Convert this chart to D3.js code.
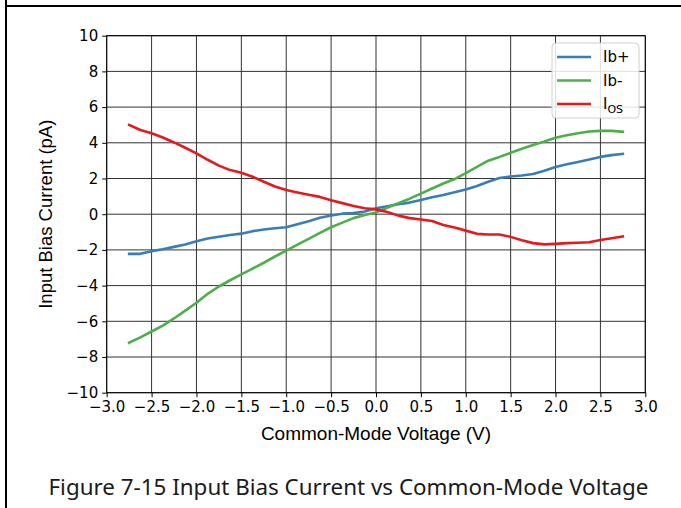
<!DOCTYPE html>
<html lang="en">
<head>
<meta charset="UTF-8">
<title>Input Bias Current vs Common-Mode Voltage</title>
<script src="https://cdn.jsdelivr.net/npm/d3@7"></script>
<style>
	body { margin: 0; background: #fff; }
	svg { display: block; }
</style>
</head>
<body>
<svg id="chart" width="681" height="508"></svg>
<script>
	// common-mode voltage (V), 0.125 V steps
	let vcm = [-2.75, -2.625, -2.5, -2.375, -2.25, -2.125, -2.0, -1.875, -1.75, -1.625, -1.5, -1.375, -1.25, -1.125, -1.0,
		-0.875, -0.75, -0.625, -0.5, -0.375, -0.25, -0.125, 0, 0.125, 0.25, 0.375, 0.5, 0.625, 0.75, 0.875, 1.0,
		1.125, 1.25, 1.375, 1.5, 1.625, 1.75, 1.875, 2.0, 2.125, 2.25, 2.375, 2.5, 2.625, 2.75]

	// pA
	let ibPlus = [-2.22, -2.22, -2.07, -1.96, -1.83, -1.70, -1.52, -1.36, -1.26, -1.17, -1.09, -0.95, -0.86, -0.79, -0.73,
		-0.56, -0.40, -0.20, -0.07, 0.03, 0.06, 0.15, 0.33, 0.45, 0.56, 0.65, 0.79, 0.95, 1.08, 1.23, 1.38,
		1.58, 1.82, 2.03, 2.11, 2.17, 2.25, 2.43, 2.64, 2.80, 2.93, 3.06, 3.21, 3.31, 3.38]
	let ibMinus = [-7.20, -6.90, -6.57, -6.24, -5.84, -5.40, -4.96, -4.46, -4.05, -3.70, -3.37, -3.05, -2.72, -2.37, -2.04,
		-1.70, -1.38, -1.05, -0.73, -0.47, -0.22, -0.05, 0.10, 0.36, 0.62, 0.87, 1.15, 1.44, 1.72, 1.97, 2.30,
		2.65, 3.00, 3.21, 3.44, 3.67, 3.88, 4.07, 4.28, 4.42, 4.53, 4.63, 4.67, 4.67, 4.62]
	let ios = [5.00, 4.72, 4.53, 4.30, 4.02, 3.72, 3.41, 3.05, 2.72, 2.47, 2.32, 2.10, 1.82, 1.55, 1.36,
		1.22, 1.09, 0.97, 0.78, 0.62, 0.46, 0.33, 0.27, 0.12, -0.08, -0.22, -0.30, -0.38, -0.60, -0.75, -0.92,
		-1.10, -1.14, -1.14, -1.27, -1.46, -1.62, -1.69, -1.66, -1.62, -1.60, -1.57, -1.45, -1.35, -1.25]

	let xTicks = d3.range(-3, 3.01, 0.5)
	let yTicks = d3.range(-10, 10.01, 2)

	let series = [
		{ name: 'Ib+', values: ibPlus, color: '#377eb8' },
		{ name: 'Ib-', values: ibMinus, color: '#4daf4a' },
		{ name: 'IOS', values: ios, color: '#e41a1c' },
	]

	let svg = d3.select('#chart')
	let pl = 106.7, pr = 645.3, pt = 35.7, pb = 392.7

	let x = d3.scaleLinear().domain([-3, 3]).range([pl, pr])
	let y = d3.scaleLinear().domain([-10, 10]).range([pb, pt])

	// page frame
	svg.append('line').attr('x1', 6).attr('x2', 6).attr('y1', 0).attr('y2', 508)
		.attr('stroke', '#000').attr('stroke-width', 2)
	svg.append('line').attr('x1', 6).attr('x2', 681).attr('y1', 6).attr('y2', 6)
		.attr('stroke', '#000').attr('stroke-width', 2)

	// grid
	let grid = svg.append('g').attr('stroke', '#333').attr('stroke-width', 1)
	grid.selectAll('.vx').data(xTicks).join('line')
		.attr('x1', d => x(d)).attr('x2', d => x(d))
		.attr('y1', pt).attr('y2', pb)
	grid.selectAll('.hy').data(yTicks).join('line')
		.attr('x1', pl).attr('x2', pr)
		.attr('y1', d => y(d)).attr('y2', d => y(d))

	// axes
	let xAxis = svg.append('g').attr('transform', `translate(0,${pb})`)
		.call(d3.axisBottom(x).tickValues(xTicks).tickFormat(d3.format('.1f')).tickSize(4.5).tickPadding(4))
	let yAxis = svg.append('g').attr('transform', `translate(${pl},0)`)
		.call(d3.axisLeft(y).tickValues(yTicks).tickFormat(d3.format('d')).tickSize(4.5).tickPadding(4))
	;[xAxis, yAxis].forEach(a => {
		a.select('.domain').remove()
		a.selectAll('text').attr('font-family', 'DejaVu Sans').attr('font-size', 15).attr('fill', '#000')
		a.selectAll('line').attr('stroke', '#000')
	})

	svg.append('rect').attr('x', pl).attr('y', pt)
		.attr('width', pr - pl).attr('height', pb - pt)
		.attr('fill', 'none').attr('stroke', '#000').attr('stroke-width', 1)

	// curves
	let line = d3.line().x((d, i) => x(vcm[i])).y(d => y(d))
	svg.append('g').selectAll('path').data(series).join('path')
		.attr('d', d => line(d.values))
		.attr('fill', 'none')
		.attr('stroke', d => d.color)
		.attr('stroke-width', 2.6)
		.attr('stroke-linejoin', 'round')
		.attr('stroke-linecap', 'square')

	// legend
	let lg = svg.append('g')
	lg.append('rect').attr('x', 552).attr('y', 43).attr('width', 87).attr('height', 75)
		.attr('rx', 4).attr('fill', '#fff').attr('fill-opacity', 0.85)
		.attr('stroke', '#d0d0d0').attr('stroke-width', 1)
	let rows = lg.selectAll('.row').data(series).join('g')
		.attr('transform', (d, i) => `translate(557,${57 + i * 23.5})`)
	rows.append('line').attr('x1', 0).attr('x2', 34)
		.attr('stroke', d => d.color).attr('stroke-width', 2.6)
	let lt = rows.append('text').attr('x', 46).attr('dy', '0.36em')
		.attr('font-family', 'DejaVu Sans').attr('font-size', 15)
	lt.filter(d => d.name !== 'IOS').text(d => d.name)
	let osTxt = lt.filter(d => d.name === 'IOS')
	osTxt.append('tspan').text('I')
	osTxt.append('tspan').attr('font-size', 11).attr('dy', 4).text('OS')

	// axis titles
	svg.append('text').attr('x', (pl + pr) / 2).attr('y', 440)
		.attr('text-anchor', 'middle').attr('font-family', 'Liberation Sans').attr('font-size', 19)
		.text('Common-Mode Voltage (V)')
	svg.append('text').attr('transform', `translate(52,${(pt + pb) / 2}) rotate(-90)`)
		.attr('text-anchor', 'middle').attr('font-family', 'Liberation Sans').attr('font-size', 18.5)
		.text('Input Bias Current (pA)')

	// caption
	svg.append('text').attr('x', 348.5).attr('y', 495)
		.attr('text-anchor', 'middle').attr('font-family', 'Noto Sans').attr('font-size', 22.4)
		.attr('fill', '#1a1a1a')
		.text('Figure 7-15 Input Bias Current vs Common-Mode Voltage')
</script>
</body>
</html>
